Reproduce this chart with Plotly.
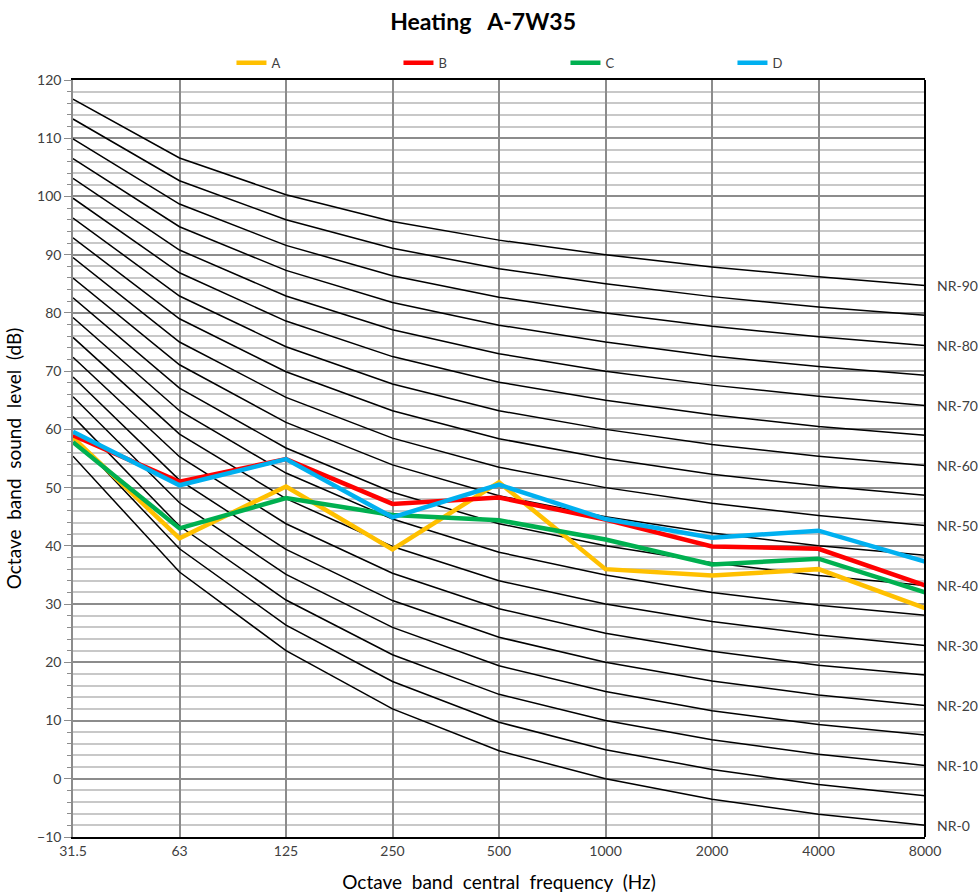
import plotly.graph_objects as go

# Octave band centre frequencies (Hz)
freqs = ["31.5", "63", "125", "250", "500", "1000", "2000", "4000", "8000"]

# Measured octave band sound levels (dB)
series_a = [58.6, 41.3, 50.2, 39.4, 50.9, 36.0, 34.9, 36.0, 29.3]
series_b = [59.0, 51.0, 54.9, 47.2, 48.3, 44.5, 39.9, 39.5, 33.2]
series_c = [57.8, 43.0, 48.2, 45.3, 44.4, 41.1, 36.8, 37.8, 32.0]
series_d = [59.6, 50.4, 54.9, 44.9, 50.5, 44.6, 41.4, 42.6, 37.3]

series_names = ["A", "B", "C", "D"]
series_colors = ["#FFC000", "#FF0000", "#00B050", "#00B0F0"]

# Noise Rating reference curves, levels per octave band (dB)
NR0 = [55.4, 35.5, 22.0, 12.0, 4.8, 0.0, -3.5, -6.1, -8.0]
NR5 = [58.8, 39.5, 26.4, 16.7, 9.7, 5.0, 1.6, -1.0, -2.9]
NR10 = [62.2, 43.4, 30.7, 21.3, 14.5, 10.0, 6.7, 4.2, 2.3]
NR15 = [65.6, 47.4, 35.1, 26.0, 19.4, 15.0, 11.7, 9.3, 7.5]
NR20 = [69.0, 51.3, 39.4, 30.6, 24.3, 20.0, 16.8, 14.4, 12.6]
NR25 = [72.4, 55.3, 43.8, 35.3, 29.2, 25.0, 21.9, 19.5, 17.8]
NR30 = [75.8, 59.2, 48.1, 39.9, 34.0, 30.0, 27.0, 24.7, 22.9]
NR35 = [79.2, 63.2, 52.5, 44.6, 38.9, 35.0, 32.0, 29.8, 28.1]
NR40 = [82.6, 67.1, 56.8, 49.2, 43.8, 40.0, 37.1, 34.9, 33.2]
NR45 = [86.0, 71.1, 61.2, 53.9, 48.6, 45.0, 42.2, 40.0, 38.4]
NR50 = [89.5, 75.0, 65.5, 58.5, 53.5, 50.0, 47.3, 45.2, 43.5]
NR55 = [92.9, 79.0, 69.9, 63.2, 58.4, 55.0, 52.3, 50.3, 48.7]
NR60 = [96.3, 82.9, 74.2, 67.8, 63.2, 60.0, 57.4, 55.4, 53.8]
NR65 = [99.7, 86.9, 78.6, 72.5, 68.1, 65.0, 62.5, 60.5, 59.0]
NR70 = [103.1, 90.8, 82.9, 77.1, 73.0, 70.0, 67.6, 65.7, 64.1]
NR75 = [106.5, 94.8, 87.3, 81.8, 77.9, 75.0, 72.6, 70.8, 69.3]
NR80 = [109.9, 98.7, 91.6, 86.4, 82.7, 80.0, 77.7, 75.9, 74.4]
NR85 = [113.3, 102.7, 96.0, 91.1, 87.6, 85.0, 82.8, 81.0, 79.6]
NR90 = [116.7, 106.6, 100.3, 95.7, 92.5, 90.0, 87.9, 86.2, 84.7]

nr_ratings = [0, 5, 10, 15, 20, 25, 30, 35, 40, 45, 50, 55, 60, 65, 70, 75, 80, 85, 90]
nr_curves = [NR0, NR5, NR10, NR15, NR20, NR25, NR30, NR35, NR40, NR45,
             NR50, NR55, NR60, NR65, NR70, NR75, NR80, NR85, NR90]
nr_labelled = [0, 10, 20, 30, 40, 50, 60, 70, 80, 90]

FONT = "Lato, 'Open Sans', sans-serif"
NB = "\u00a0"

fig = go.Figure()

for rating, levels in zip(nr_ratings, nr_curves):
    fig.add_trace(go.Scatter(
        x=freqs, y=levels, mode="lines", showlegend=False, hoverinfo="skip",
        line=dict(color="black", width=1.5),
    ))

for name, color, values in zip(series_names, series_colors,
                               [series_a, series_b, series_c, series_d]):
    fig.add_trace(go.Scatter(
        x=freqs, y=values, mode="lines", name=name,
        line=dict(color=color, width=4.5),
    ))

# NR labels to the right of the plot, at each curve's 8000 Hz level
for rating, levels in zip(nr_ratings, nr_curves):
    if rating in nr_labelled:
        fig.add_annotation(
            x=1, xref="paper", y=levels[-1], yref="y", xanchor="left",
            xshift=10, text=f"NR-{rating}", showarrow=False,
            font=dict(family=FONT, size=14, color="#404040"),
        )

# Right-hand black frame line
fig.add_shape(type="line", xref="paper", yref="paper", x0=1, x1=1, y0=0, y1=1,
              line=dict(color="black", width=2), layer="above")

fig.update_layout(
    width=978, height=893,
    margin=dict(l=73, r=53, t=80, b=56),
    paper_bgcolor="white", plot_bgcolor="white",
    font=dict(family=FONT, color="#404040"),
    title=dict(
        text=f"<b>Heating{NB}{NB}{NB}A-7W35</b>",
        x=0.494, xanchor="center", y=0.975, yanchor="middle",
        font=dict(family=FONT, size=23, color="black"),
    ),
    legend=dict(
        orientation="h", x=0.186, xanchor="left", y=1.003, yanchor="bottom",
        entrywidth=122, entrywidthmode="pixels",
        font=dict(family=FONT, size=13, color="#404040"),
        bgcolor="rgba(0,0,0,0)", itemclick=False,
    ),
    showlegend=True,
)

fig.update_xaxes(
    type="category", range=[0, 8], automargin=False,
    showgrid=True, gridcolor="#8c8c8c", gridwidth=1.5,
    showline=True, linecolor="black", linewidth=2, mirror=True,
    ticks="", tickfont=dict(family=FONT, size=14, color="#404040"),
    title=dict(text=f"Octave{NB}{NB}band{NB}{NB}central{NB}{NB}frequency{NB}{NB}(Hz)",
               font=dict(family=FONT, size=19, color="black"), standoff=22),
    zeroline=False,
)

fig.update_yaxes(
    range=[-10, 120], dtick=10, tick0=0,
    showgrid=True, gridcolor="#8c8c8c", gridwidth=1.5,
    minor=dict(dtick=2, showgrid=True, gridcolor="#c8c8c8", gridwidth=2,
               ticks="outside", ticklen=4, tickcolor="#8c8c8c"),
    showline=True, linecolor="#8c8c8c", linewidth=1.5,
    ticks="outside", ticklen=7, tickcolor="#8c8c8c",
    tickfont=dict(family=FONT, size=14, color="#404040"),
    title=dict(text=f"Octave{NB}{NB}band{NB}{NB}sound{NB}{NB}level{NB}{NB}(dB)",
               font=dict(family=FONT, size=19, color="black"), standoff=10),
    zeroline=False,
)

fig.write_html("out.html")
